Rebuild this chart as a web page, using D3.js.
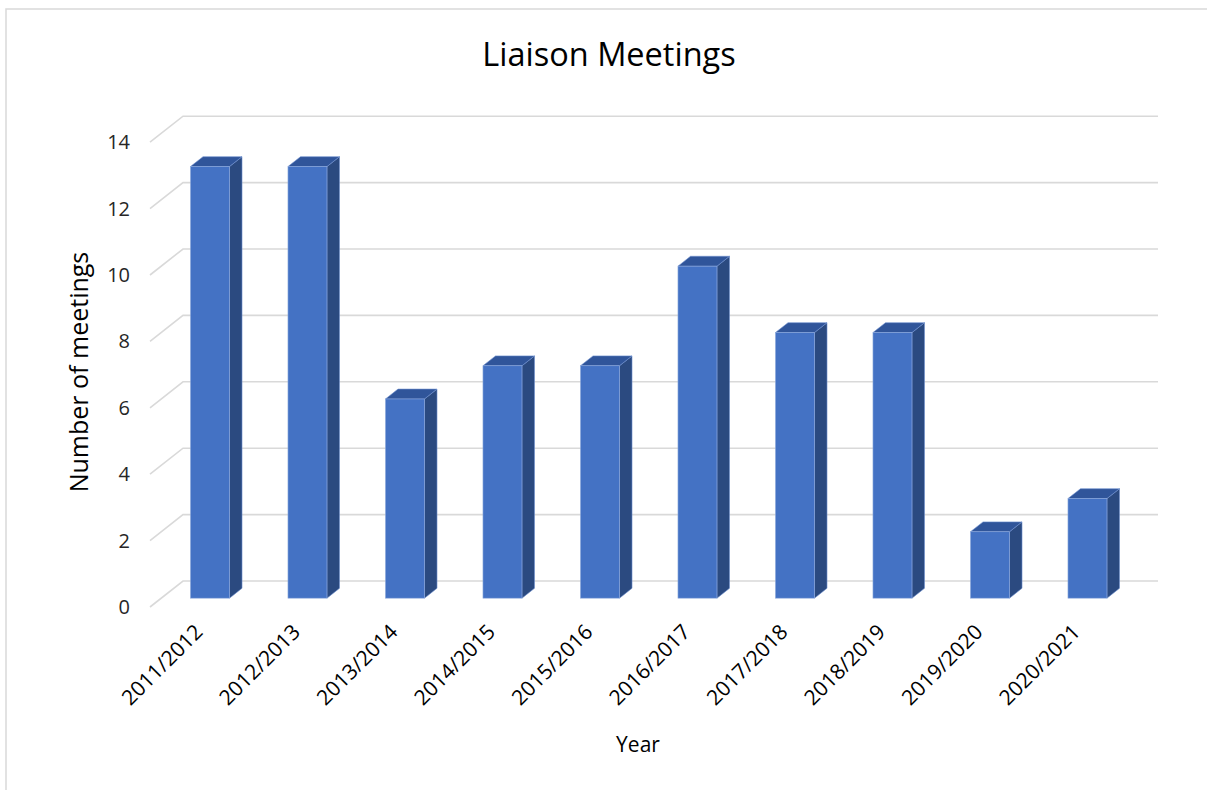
<!DOCTYPE html>
<html>
<head>
<meta charset="utf-8">
<script src="https://cdn.jsdelivr.net/npm/d3@7.9.0/dist/d3.min.js"></script>
<style>
  body { margin: 0; background: #fff; }
  svg { display: block; font-family: "Open Sans", Lato, sans-serif; }
</style>
</head>
<body>
<svg id="chart" width="1207" height="790"></svg>
<script>
// Chart data
const years = ['2011/2012', '2012/2013', '2013/2014', '2014/2015', '2015/2016',
               '2016/2017', '2017/2018', '2018/2019', '2019/2020', '2020/2021'];
const meetings = [13, 13, 6, 7, 7, 10, 8, 8, 2, 3];
const yTicks = [0, 2, 4, 6, 8, 10, 12, 14];

const svg = d3.select('#chart');

// outer frame (only top and left edge are visible)
svg.append('rect')
  .attr('x', 6).attr('y', 9)
  .attr('width', 1400).attr('height', 1000)
  .attr('fill', 'none')
  .attr('stroke', '#d9d9d9')
  .attr('stroke-width', 1.5);

// 3D projection: front plane + depth vector
const depth = { dx: 33, dy: -26 };
const barFront = 0.34;  // where the bar front sits in depth
const barDepth = 0.38;  // bar thickness in depth

let x = d3.scaleBand().domain(years).range([150, 1125]);
let y = d3.scaleLinear().domain([0, 14]).range([607, 142.2]);

// gridlines: slanted floor edge then back wall line
svg.append('g')
  .selectAll('path')
  .data(yTicks)
  .enter()
  .append('path')
  .attr('d', (v) => {
    let x0 = x.range()[0], x1 = x.range()[1];
    let yy = y(v);
    return `M${x0},${yy}L${x0 + depth.dx},${yy + depth.dy}L${x1 + depth.dx},${yy + depth.dy}`;
  })
  .attr('fill', 'none')
  .attr('stroke', '#d9d9d9')
  .attr('stroke-width', 1.6);

// y tick labels
svg.append('g')
  .selectAll('text')
  .data(yTicks)
  .enter()
  .append('text')
  .attr('x', 130)
  .attr('y', (v) => y(v))
  .attr('dy', '0.35em')
  .attr('text-anchor', 'end')
  .attr('font-size', 20)
  .attr('fill', '#262626')
  .text((v) => v);

// bars
const bw = 39;
const bars = svg.append('g')
  .selectAll('g')
  .data(meetings)
  .enter()
  .append('g');

function geom(v, i) {
  let xl = x(years[i]) + (x.bandwidth() - bw) / 2 + barFront * depth.dx;
  let xr = xl + bw;
  let yb = y(0) + barFront * depth.dy;
  let yt = y(v) + barFront * depth.dy;
  let ddx = barDepth * depth.dx, ddy = barDepth * depth.dy;
  return { xl, xr, yb, yt, ddx, ddy };
}

// side face
bars.append('path')
  .attr('d', (v, i) => {
    let g = geom(v, i);
    return `M${g.xr},${g.yb}L${g.xr + g.ddx},${g.yb + g.ddy}L${g.xr + g.ddx},${g.yt + g.ddy}L${g.xr},${g.yt}Z`;
  })
  .attr('fill', '#2b4a80')
  .attr('stroke', '#6d8fcf')
  .attr('stroke-width', 0.6);

// top face
bars.append('path')
  .attr('d', (v, i) => {
    let g = geom(v, i);
    return `M${g.xl},${g.yt}L${g.xr},${g.yt}L${g.xr + g.ddx},${g.yt + g.ddy}L${g.xl + g.ddx},${g.yt + g.ddy}Z`;
  })
  .attr('fill', '#30559a')
  .attr('stroke', '#6d8fcf')
  .attr('stroke-width', 0.6);

// front face
bars.append('rect')
  .attr('x', (v, i) => geom(v, i).xl)
  .attr('y', (v, i) => geom(v, i).yt)
  .attr('width', bw)
  .attr('height', (v, i) => geom(v, i).yb - geom(v, i).yt)
  .attr('fill', '#4472c4')
  .attr('stroke', '#8eaadc')
  .attr('stroke-width', 0.6);

// x labels, rotated
svg.append('g')
  .selectAll('text')
  .data(years)
  .enter()
  .append('text')
  .attr('transform', (d) => `translate(${x(d) + x.bandwidth() / 2},${628}) rotate(-45)`)
  .attr('text-anchor', 'end')
  .attr('dy', '0.35em')
  .attr('font-size', 21)
  .attr('fill', '#000')
  .text((d) => d);

// title
svg.append('text')
  .attr('x', 609).attr('y', 66)
  .attr('text-anchor', 'middle')
  .attr('font-size', 32.5)
  .attr('fill', '#000')
  .text('Liaison Meetings');

// axis titles
svg.append('text')
  .attr('transform', 'translate(88,372) rotate(-90)')
  .attr('text-anchor', 'middle')
  .attr('font-size', 25)
  .attr('fill', '#000')
  .text('Number of meetings');

svg.append('text')
  .attr('x', 638).attr('y', 752)
  .attr('text-anchor', 'middle')
  .attr('font-size', 21)
  .attr('fill', '#000')
  .text('Year');
</script>
</body>
</html>
